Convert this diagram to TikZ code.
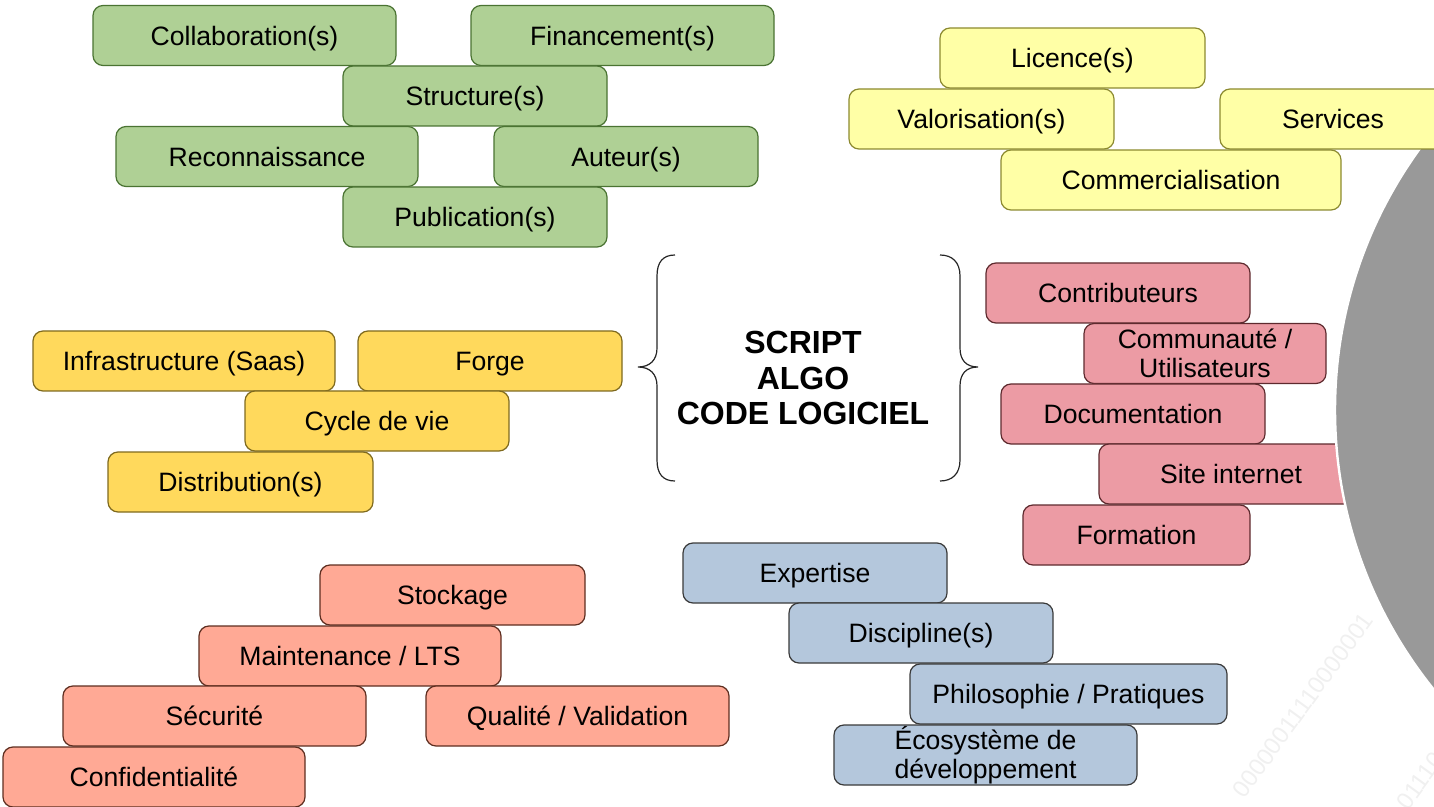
\documentclass[tikz,border=0pt]{standalone}
\usepackage{fontspec}
\setmainfont{Liberation Sans}
\definecolor{gfill}{HTML}{AFD095}\definecolor{gline}{HTML}{4A7332}
\definecolor{yfill}{HTML}{FFFFA6}\definecolor{yline}{HTML}{8C8A30}
\definecolor{ofill}{HTML}{FFD95C}\definecolor{oline}{HTML}{7F6A1E}
\definecolor{pfill}{HTML}{EC9BA4}\definecolor{pline}{HTML}{5E2A2E}
\definecolor{sfill}{HTML}{FFA995}\definecolor{sline}{HTML}{5E2E20}
\definecolor{bfill}{HTML}{B4C7DC}\definecolor{bline}{HTML}{3A3A3A}
\definecolor{circ}{HTML}{999999}
\begin{document}
\begin{tikzpicture}[x=0.5pt,y=-0.5pt,
  box/.style={draw, rounded corners=5pt, line width=0.6pt, minimum height=30pt,
    inner sep=0pt, text=black, font=\fontsize{13.3}{14.5}\selectfont,
    text height=9.6pt, text depth=0pt},
  box2/.style={draw, rounded corners=5pt, line width=0.6pt, minimum height=30pt,
    inner sep=0pt, align=center, text=black, font=\fontsize{13.3}{14.5}\selectfont},
  gbox/.style={box, fill=gfill, draw=gline},
  ybox/.style={box, fill=yfill, draw=yline},
  obox/.style={box, fill=ofill, draw=oline},
  pbox/.style={box, fill=pfill, draw=pline},
  pbox2/.style={box2, fill=pfill, draw=pline},
  sbox/.style={box, fill=sfill, draw=sline},
  bbox/.style={box, fill=bfill, draw=bline},
  bbox2/.style={box2, fill=bfill, draw=bline},
  brace/.style={draw=black!85, line width=0.6pt},
  wm/.style={rotate=54, text=black!6, font=\fontsize{12}{12}\selectfont}]
\path[use as bounding box, clip] (0,0) rectangle (1434,807);

% watermark
\node[wm] (wm1) at (1303,705) {00000011110000001};
\node[wm] (wm2) at (1428,770) {0111000};

% green group
\node[gbox, minimum width=151.5pt] (collab) at (244.5,35.5) {Collaboration(s)};
\node[gbox, minimum width=151.5pt] (finan) at (622.5,35.5) {Financement(s)};
\node[gbox, minimum width=132pt] (struct) at (475,96) {Structure(s)};
\node[gbox, minimum width=151pt] (recon) at (267,156.5) {Reconnaissance};
\node[gbox, minimum width=132pt] (auteur) at (626,156.5) {Auteur(s)};
\node[gbox, minimum width=132pt] (publi) at (475,217) {Publication(s)};

% light yellow group
\node[ybox, minimum width=132.5pt] (licence) at (1072.5,58) {Licence(s)};
\node[ybox, minimum width=132.5pt] (valor) at (981.5,119) {Valorisation(s)};
\node[ybox, minimum width=170pt] (commerc) at (1171,180) {Commercialisation};

% gold group
\node[obox, minimum width=151pt] (infra) at (184,361) {Infrastructure (Saas)};
\node[obox, minimum width=132pt] (forge) at (490,361) {Forge};
\node[obox, minimum width=132pt] (cycle) at (377,421) {Cycle de vie};
\node[obox, minimum width=132.5pt] (distrib) at (240.5,482) {Distribution(s)};

% pink group
\node[pbox, minimum width=132pt] (contrib) at (1118,293) {Contributeurs};
\node[pbox2, minimum width=121pt] (commu) at (1205,353.5) {Communauté /\\Utilisateurs};
\node[pbox, minimum width=132pt] (docu) at (1133,414) {Documentation};
\node[pbox, minimum width=132pt] (site) at (1231,474) {Site internet};
\node[pbox, minimum width=113.5pt] (formation) at (1136.5,535) {Formation};

% gray circle
\draw[white, line width=1.2pt, fill=circ] (1780,410) circle[radius=445];

\node[ybox, minimum width=113pt] (services) at (1333,119) {Services};

% salmon group
\node[sbox, minimum width=132.5pt] (stock) at (452.5,595) {Stockage};
\node[sbox, minimum width=151pt] (maint) at (350,656) {Maintenance / LTS};
\node[sbox, minimum width=151.5pt] (secu) at (214.5,716) {Sécurité};
\node[sbox, minimum width=151.5pt] (qualite) at (577.5,716) {Qualité / Validation};
\node[sbox, minimum width=151pt] (confid) at (154,777) {Confidentialité};

% blue group
\node[bbox, minimum width=132pt] (expert) at (815,573) {Expertise};
\node[bbox, minimum width=132pt] (discip) at (921,633) {Discipline(s)};
\node[bbox, minimum width=158.5pt] (philo) at (1068.5,694) {Philosophie / Pratiques};
\node[bbox2, minimum width=151.5pt] (ecosys) at (985.5,755) {Écosystème de\\développement};

% centre
\node[align=center, font=\bfseries\fontsize{16}{17.75}\selectfont] (centre) at (803,378) {SCRIPT\\ALGO\\CODE LOGICIEL};

% braces
\draw[brace] (675,255) .. controls (663,255) and (657,262) .. (657,276) -- (657,348)
  .. controls (657,360) and (650,367) .. (638,367)
  .. controls (650,367) and (657,374) .. (657,386) -- (657,460)
  .. controls (657,474) and (663,481) .. (675,481);
\draw[brace] (940,255) .. controls (952,255) and (960,262) .. (960,276) -- (960,348)
  .. controls (960,360) and (966,367) .. (978,367)
  .. controls (966,367) and (960,374) .. (960,386) -- (960,460)
  .. controls (960,474) and (952,481) .. (940,481);
\end{tikzpicture}
\end{document}
